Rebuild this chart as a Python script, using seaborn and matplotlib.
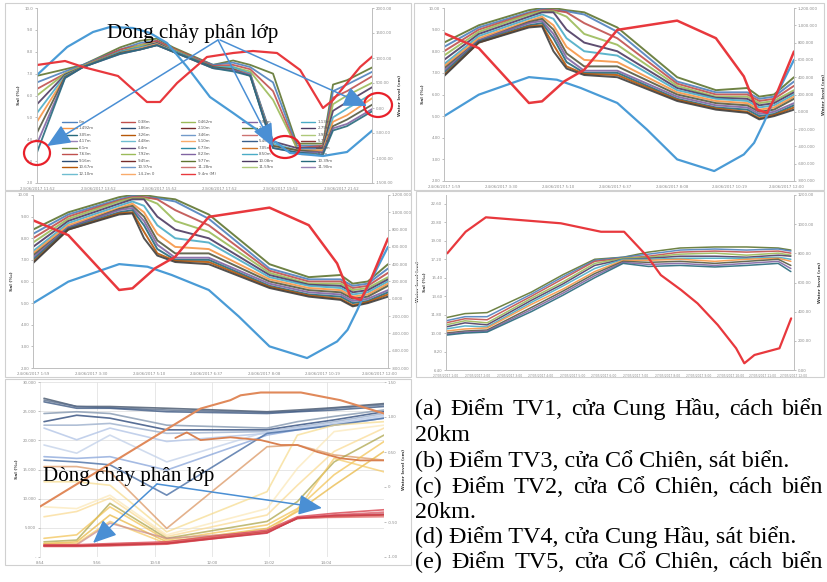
import matplotlib
matplotlib.use('Agg')
import pandas as pd
import matplotlib.pyplot as plt
import seaborn as sns
from matplotlib.patches import Rectangle, Ellipse
from matplotlib.lines import Line2D

# ---------------- data ----------------
# Panel (a) TV1: salinity by depth (left axis), water level (red) and discharge (blue) on right axis
t_a = [0, 0.92, 1.51, 2.73, 3.38, 3.94, 4.47, 5.78, 6.44, 7.0, 7.75, 8.53, 9.39, 9.72, 10.18, 11.03]
sal_a = [
    [6.9, 7.2, 7.4, 8.2, 8.5, 8.6, 8.2, 7.4, 7.6, 7.4, 7.0, 3.8, 3.8, 6.5, 6.7, 7.3],
    [6.6, 7.1, 7.4, 8.1, 8.4, 8.5, 8.1, 7.4, 7.5, 7.3, 6.6, 3.7, 3.7, 6.2, 6.5, 7.1],
    [6.3, 7.0, 7.35, 8.1, 8.3, 8.5, 8.15, 7.35, 7.4, 7.2, 6.2, 3.6, 3.7, 5.9, 6.2, 6.9],
    [6.0, 7.0, 7.35, 8.0, 8.3, 8.4, 8.1, 7.3, 7.3, 7.1, 5.8, 3.6, 3.6, 5.6, 6.0, 6.6],
    [5.6, 6.95, 7.3, 8.0, 8.2, 8.4, 8.05, 7.3, 7.2, 7.0, 3.9, 3.6, 3.6, 5.3, 5.7, 6.4],
    [5.2, 6.9, 7.3, 8.0, 8.2, 8.35, 8.05, 7.3, 7.3, 7.0, 3.8, 3.5, 3.5, 5.0, 5.4, 6.1],
    [4.8, 6.85, 7.3, 7.95, 8.15, 8.35, 8.0, 7.25, 7.2, 6.95, 3.7, 3.5, 3.5, 4.8, 5.1, 5.9],
    [4.3, 6.85, 7.3, 7.95, 8.1, 8.3, 8.0, 7.3, 7.2, 6.9, 3.7, 3.5, 3.4, 4.6, 4.9, 5.6],
    [3.8, 6.8, 7.3, 7.9, 8.1, 8.3, 8.0, 7.25, 7.15, 6.95, 3.6, 3.4, 3.4, 4.5, 4.7, 5.4],
    [3.4, 6.8, 7.3, 7.9, 8.1, 8.3, 8.0, 7.25, 7.1, 6.9, 3.6, 3.4, 3.3, 4.4, 4.6, 5.3],
]
t_a_red = [0, 0.92, 1.51, 2.66, 3.61, 4.04, 4.60, 5.58, 6.44, 7.09, 7.88, 8.64, 9.39, 9.72, 10.18, 10.61, 11.03]
wl_a = [860, 940, 820, 640, 120, 120, 500, 1020, 1100, 1140, 1100, 760, 0, 160, 500, 820, 1040]
t_a_blue = [0, 0.99, 1.84, 2.40, 3.15, 3.71, 4.27, 4.93, 5.68, 6.44, 7.09, 7.88, 8.31, 9.39, 10.18, 11.03]
q_a = [660, 1220, 1520, 1620, 1600, 1500, 1300, 820, 220, -100, -380, -700, -900, -960, -880, -440]
xlab_a = ["23/06/2017 11:52", "23/06/2017 13:52", "23/06/2017 15:52",
          "23/06/2017 17:52", "23/06/2017 19:52", "23/06/2017 21:52"]
depth_labels = ["0m", "0.38m", "0.462m", "0.93m", "1.13m", "1.492m", "1.86m", "2.10m", "2.44m", "2.79m",
                "3.05m", "3.26m", "3.46m", "3.59m", "3.97m", "4.17m", "4.48m", "5.10m", "5.40m", "5.77m",
                "6.1m", "6.4m", "6.73m", "7.05m", "7.40m", "7.63m", "7.92m", "8.23m", "8.50m", "8.8m",
                "9.16m", "9.45m", "9.77m", "10.08m", "10.39m", "10.67m", "10.97m", "11.28m", "11.59m", "11.90m",
                "12.10m", "14.2m 0", "9.4m (M)"]

# Panels (b) TV3 and (c) TV2 (same curves in the source figure)
t_b = [0, 0.61, 1.49, 1.72, 1.92, 2.15, 2.46, 3.04, 4.09, 4.77, 5.32, 5.53, 5.79, 6.14]
sal_b = [
    [8.4, 9.2, 9.9, 10.0, 10.0, 9.9, 9.8, 9.1, 6.8, 6.2, 6.3, 5.9, 6.0, 6.8],
    [8.2, 9.1, 9.8, 9.95, 9.9, 9.85, 9.7, 8.9, 6.6, 6.1, 6.1, 5.8, 5.9, 6.6],
    [8.0, 9.0, 9.75, 9.9, 9.9, 9.8, 9.3, 8.6, 6.5, 6.0, 6.0, 5.7, 5.8, 6.4],
    [7.8, 8.9, 9.7, 9.85, 9.85, 9.6, 8.8, 8.3, 6.4, 5.9, 5.9, 5.6, 5.7, 6.2],
    [7.6, 8.8, 9.6, 9.8, 9.8, 9.0, 8.4, 8.0, 6.3, 5.85, 5.8, 5.5, 5.6, 6.1],
    [7.4, 8.7, 9.5, 9.7, 9.5, 8.6, 8.0, 7.8, 6.2, 5.8, 5.7, 5.4, 5.5, 6.0],
    [7.3, 8.6, 9.4, 9.6, 9.2, 8.2, 7.6, 7.5, 6.1, 5.7, 5.6, 5.3, 5.4, 5.9],
    [7.2, 8.5, 9.35, 9.5, 9.0, 7.9, 7.3, 7.3, 6.0, 5.6, 5.5, 5.2, 5.3, 5.8],
    [7.1, 8.5, 9.3, 9.4, 8.8, 7.7, 7.1, 7.1, 5.9, 5.5, 5.4, 5.1, 5.2, 5.6],
    [7.0, 8.45, 9.2, 9.3, 8.6, 7.5, 7.0, 7.0, 5.8, 5.4, 5.3, 5.0, 5.1, 5.5],
    [6.9, 8.4, 9.15, 9.2, 8.3, 7.3, 6.95, 6.9, 5.75, 5.35, 5.2, 4.9, 5.05, 5.4],
    [6.85, 8.4, 9.1, 9.15, 8.0, 7.2, 6.9, 6.8, 5.7, 5.3, 5.15, 4.85, 5.0, 5.3],
]
t_b_red = [0, 0.61, 1.49, 1.72, 2.11, 2.46, 3.04, 4.09, 4.77, 5.26, 5.49, 5.67, 5.84, 6.14]
wl_b = [908, 736, 102, 121, 352, 486, 947, 1054, 851, 409, 25, -13, 217, 697]
t_b_blue = [0, 0.61, 1.49, 1.98, 2.40, 3.04, 3.56, 4.09, 4.74, 5.26, 5.44, 5.61, 5.79, 6.14]
q_b = [-51, 198, 401, 371, 275, 102, -205, -550, -685, -493, -359, -128, 140, 601]
xlab_b = ["24/06/2017 1:59", "24/06/2017 3:30", "24/06/2017 5:10", "24/06/2017 6:37",
          "24/06/2017 8:08", "24/06/2017 10:19", "24/06/2017 12:00"]

# Panel (d) TV4
t_d = [0, 0.6, 1.3, 2.7, 3.7, 4.7, 5.6, 6.4, 7.4, 8.5, 9.5, 10.5, 10.9]
sal_d = [
    [11.5, 11.9, 12.0, 14.0, 15.7, 17.2, 17.4, 17.9, 18.3, 18.4, 18.4, 18.3, 18.1],
    [11.2, 11.6, 11.6, 13.8, 15.5, 17.1, 17.4, 17.7, 18.1, 18.2, 18.1, 18.2, 18.0],
    [11.0, 11.4, 11.3, 13.6, 15.3, 17.0, 17.3, 17.5, 17.9, 18.0, 17.9, 18.0, 17.8],
    [10.8, 11.2, 11.0, 13.4, 15.0, 16.8, 17.3, 17.4, 17.7, 17.8, 17.6, 17.8, 17.6],
    [10.6, 11.0, 10.8, 13.2, 14.8, 16.6, 17.2, 17.3, 17.5, 17.5, 17.4, 17.6, 17.5],
    [10.4, 10.7, 10.6, 13.0, 14.6, 16.3, 17.2, 17.2, 17.3, 17.3, 17.3, 17.4, 17.2],
    [10.2, 10.4, 10.5, 12.8, 14.3, 16.0, 17.1, 17.1, 17.2, 17.0, 17.2, 17.3, 17.0],
    [10.0, 10.2, 10.3, 12.5, 14.1, 15.8, 17.0, 16.9, 17.0, 16.8, 17.0, 17.2, 16.6],
    [9.9, 10.1, 10.2, 12.3, 13.9, 15.6, 16.9, 16.7, 16.8, 16.6, 16.8, 17.0, 16.3],
    [9.8, 10.0, 10.1, 12.1, 13.7, 15.4, 16.8, 16.5, 16.6, 16.45, 16.6, 16.8, 16.0],
]
t_d_red = [0.04, 0.62, 1.26, 3.63, 4.9, 5.63, 6.37, 6.79, 7.43, 7.95, 8.59, 9.17, 9.43, 9.75, 10.54, 10.91]
wl_d = [800, 948, 1047, 1006, 948, 948, 777, 651, 549, 457, 309, 149, 46, 103, 149, 354]
xlab_d = ["27/05/2017 %d:00" % h for h in range(1, 13)]

# Panel (e) TV5
t_e = [0.07, 0.64, 1.22, 2.21, 3.96, 4.49, 5.13, 6.0]
sal_e_blue = [
    [27.2, 25.8, 25.8, 25.5, 24.9, 25.2, 25.6, 26.3],
    [26.9, 25.8, 25.6, 25.2, 24.8, 25.0, 25.5, 26.1],
    [26.6, 25.5, 25.5, 24.9, 24.6, 24.9, 25.2, 25.8],
    [24.6, 24.9, 24.6, 22.6, 22.1, 23.2, 24.1, 25.2],
    [23.2, 24.3, 23.8, 21.8, 21.8, 22.6, 23.5, 24.9],
    [22.6, 22.6, 22.9, 21.2, 21.5, 22.3, 23.2, 24.6],
    [22.1, 20.1, 22.1, 19.8, 21.2, 22.1, 22.9, 24.3],
    [19.2, 17.8, 20.9, 16.3, 21.5, 22.1, 22.9, 24.1],
    [17.2, 16.9, 17.2, 14.9, 20.9, 21.8, 22.6, 23.8],
    [16.6, 16.3, 15.8, 10.6, 21.2, 21.8, 22.6, 23.8],
]
sal_e_yellow = [
    [15.5, 15.5, 14.6, 4.9, 18.9, 19.2, 17.5, 16.6],
    [12.9, 12.9, 12.3, 4.3, 11.2, 20.9, 22.6, 23.2],
    [8.6, 8.3, 10.6, 3.8, 8.3, 15.2, 21.5, 22.6],
    [6.9, 7.8, 10.1, 3.5, 7.2, 12.3, 18.1, 22.1],
    [2.6, 2.9, 9.2, 3.2, 6.1, 9.5, 16.3, 20.9],
    [3.2, 3.8, 8.6, 2.9, 5.5, 8.3, 14.1, 19.8],
    [2.3, 2.6, 7.2, 2.6, 4.9, 7.8, 12.3, 18.1],
    [2.3, 2.3, 6.1, 2.3, 4.3, 8.1, 16.9, 14.6],
    [2.1, 2.1, 5.8, 3.2, 4.3, 6.6, 7.2, 7.5],
]
sal_e_red = [
    [2.1, 2.1, 2.3, 2.6, 4.6, 6.9, 7.5, 8.1],
    [1.9, 1.9, 2.2, 2.5, 4.5, 6.7, 7.2, 7.7],
    [1.9, 1.9, 2.1, 2.3, 4.3, 6.6, 6.9, 7.2],
    [1.8, 1.8, 1.9, 2.2, 4.2, 6.7, 6.8, 6.9],
    [1.9, 1.9, 2.0, 2.3, 4.1, 6.7, 7.1, 7.3],
]
t_e_wl1 = [0, 2.80, 3.32, 3.50, 3.85, 4.55, 5.24, 6.0]
wl_e1 = [-0.28, 1.12, 1.24, 1.31, 1.35, 1.35, 1.24, 1.05]
t_e_wl2 = [2.36, 2.56, 2.80, 3.32, 3.85, 4.20, 4.49, 4.84, 5.24, 5.59, 6.0]
wl_e2 = [0.70, 0.78, 0.67, 0.71, 0.67, 0.60, 0.60, 0.50, 0.41, 0.38, 0.38]
xlab_e = ["8:54", "9:56", "10:58", "12:00", "13:02", "14:04"]

annot_text = "Dòng chảy phân lớp"
caption_lines = [
    ("(a) Điểm TV1, cửa Cung Hầu, cách biển", True),
    ("20km", False),
    ("(b) Điểm TV3, cửa Cổ Chiên, sát biển.", False),
    ("(c) Điểm TV2, cửa Cổ Chiên, cách biển", True),
    ("20km.", False),
    ("(d) Điểm TV4, cửa Cung Hầu, sát biển.", False),
    ("(e) Điểm TV5, cửa Cổ Chiên, cách biển", True),
]

# ---------------- style ----------------
sns.set_theme(style='white')
plt.rcParams['font.family'] = ['DejaVu Sans']
SERIF = ['Liberation Serif', 'DejaVu Serif']

W, H = 827, 582
fig = plt.figure(figsize=(W / 100, H / 100), dpi=100)
fig.patch.set_facecolor('white')

PAL = ['#4F81BD', '#C0504D', '#9BBB59', '#8064A2', '#4BACC6', '#F79646', '#2C4D75', '#772C2A',
       '#5F7530', '#4D3B62', '#276A7C', '#B65708', '#729ACA', '#CD7371', '#AFC97A', '#9983B5',
       '#6FBDD1', '#F9AB6B', '#3A5F8B', '#8C3836', '#728C3E', '#5C4776', '#2E8BA6', '#D0762A']
BUNDLE = ['#5F7530', '#4F81BD', '#C0504D', '#9BBB59', '#4D3B62', '#4BACC6', '#F79646', '#555A40',
          '#8064A2', '#276A7C', '#B65708', '#3F3F3F']
RED = '#E8383D'
BLUE = '#4A9BD6'
GRAY = '#8C8C8C'
TS = 2.8


def rect(l, t, r, b):
    return [l / W, 1 - b / H, (r - l) / W, (b - t) / H]


def style_ax(ax, ax2, grid=False):
    for a in (ax, ax2):
        a.set_facecolor('none')
        a.tick_params(axis='both', labelsize=TS, length=1.5, width=0.4, colors=GRAY, pad=1.2)
        for s in a.spines.values():
            s.set_color('#BFBFBF')
            s.set_linewidth(0.6)
        a.spines['top'].set_visible(False)
    if grid:
        ax.grid(True, color='#E3E3E3', linewidth=0.6)
        for a in (ax, ax2):
            for s in a.spines.values():
                s.set_visible(False)


def line(ax, x, y, color, lw=1.0, alpha=1.0, z=2):
    sns.lineplot(x=x, y=y, ax=ax, color=color, linewidth=lw, alpha=alpha,
                 sort=False, estimator=None, zorder=z)


def make_panel(r, xlim, ylim_l, ticks_l, fmt_l, ylim_r, ticks_r, fmt_r, xticks, xlabels,
               ylab_l='Sal (‰)', ylab_r='Water level (cm)', grid=False):
    ax = fig.add_axes(rect(*r))
    ax2 = ax.twinx()
    style_ax(ax, ax2, grid)
    ax.set_xlim(*xlim)
    ax.set_ylim(*ylim_l)
    ax.set_yticks(ticks_l)
    ax.set_yticklabels([fmt_l(v) for v in ticks_l])
    ax2.set_ylim(*ylim_r)
    ax2.set_yticks(ticks_r)
    ax2.set_yticklabels([fmt_r(v) for v in ticks_r])
    ax.set_xticks(xticks)
    ax.set_xticklabels(xlabels)
    ax.set_xlabel('')
    ax.set_ylabel(ylab_l, fontsize=3.2, fontweight='bold', color='#404040', labelpad=3)
    ax2.set_ylabel(ylab_r, fontsize=3.2, fontweight='bold', color='#404040', labelpad=3)
    return ax, ax2


# ---------- (a) ----------
ax, ax2 = make_panel((37, 8, 372, 183), (0, 11), (2, 10), list(range(2, 11)), lambda v: f"{v:.1f}",
                     (-1500, 2000), list(range(-1500, 2001, 500)), lambda v: f"{v:.2f}",
                     [0, 2, 4, 6, 8, 10], xlab_a)
for i, s in enumerate(sal_a):
    line(ax, t_a, s, BUNDLE[i % len(BUNDLE)], lw=1.3, alpha=0.9)
line(ax2, t_a_blue, q_a, BLUE, lw=1.6)
line(ax2, t_a_red, wl_a, RED, lw=1.6)
handles = [Line2D([], [], color=(RED if k == len(depth_labels) - 1 else PAL[k % len(PAL)]), lw=1.0)
           for k in range(len(depth_labels))]
ncol = 5
nrow = -(-len(depth_labels) // ncol)
order = []
for c in range(ncol):
    for rr in range(nrow):
        k = rr * ncol + c
        if k < len(depth_labels):
            order.append(k)
leg = ax.legend([handles[k] for k in order], [depth_labels[k] for k in order], ncol=ncol,
                loc='upper left', bbox_to_anchor=(0.075, 0.36), frameon=False, fontsize=2.9,
                handlelength=3.6, handletextpad=0.6, columnspacing=6.6, labelspacing=0.62,
                borderaxespad=0, borderpad=0)
for tx in leg.get_texts():
    tx.set_color('#595959')

# ---------- (b) and (c) ----------
for r in [(444, 8, 794, 181), (33, 195, 388, 368)]:
    ax, ax2 = make_panel(r, (0, 6.14), (2, 10), list(range(2, 11)), lambda v: f"{v:.2f}",
                         (-800, 1200), list(range(-800, 1201, 200)), lambda v: f"{v:,.3f}",
                         list(range(7)), xlab_b)
    for i, s in enumerate(sal_b):
        line(ax, t_b, s, BUNDLE[i % len(BUNDLE)], lw=1.4, alpha=0.9)
    line(ax2, t_b_blue, q_b, BLUE, lw=1.6)
    line(ax2, t_b_red, wl_b, RED, lw=1.8)

# ---------- (d) ----------
ticks_d = [6.4 + 1.8 * k for k in range(10)]
ax, ax2 = make_panel((446, 195, 794, 370), (0, 11), (6.4, 23.47), ticks_d, lambda v: f"{v:.2f}",
                     (0, 1200), list(range(0, 1201, 200)), lambda v: f"{v:.2f}",
                     list(range(12)), xlab_d)
ax.tick_params(axis='x', labelsize=2.2)
for i, s in enumerate(sal_d):
    line(ax, t_d, s, BUNDLE[i % len(BUNDLE)], lw=1.1, alpha=0.9)
line(ax2, t_d_red, wl_d, RED, lw=1.6)

# ---------- (e) ----------
ax, ax2 = make_panel((40, 382, 384, 557), (0, 6.0), (0, 30), list(range(0, 31, 5)),
                     lambda v: '-' if v == 0 else f"{v}.000",
                     (-1.0, 1.5), [-1.0, -0.5, 0, 0.5, 1.0, 1.5],
                     lambda v: '0' if v == 0 else f"{v:.2f}",
                     list(range(6)), xlab_e, grid=True)
blue_cols = ['#44546A', '#5A6E8C', '#3F5A84', '#8497B0', '#2F4B7C', '#9DB0CC', '#B4C6E7',
             '#C5D3EA', '#8FAADC', '#4A6FA5']
yel_cols = ['#D9915A', '#F6DA8A', '#FBE7B5', '#FAD98F', '#A8A040', '#F2C14E', '#E8B43A',
            '#F5C860', '#C98A8A']
red_cols = ['#D9434F', '#E06470', '#C0392B', '#E57373', '#CC3344']
for i, s in enumerate(sal_e_blue):
    line(ax, t_e, s, blue_cols[i], lw=1.2, alpha=0.8)
for i, s in enumerate(sal_e_yellow):
    line(ax, t_e, s, yel_cols[i], lw=1.2, alpha=0.7)
for i, s in enumerate(sal_e_red):
    line(ax, t_e, s, red_cols[i], lw=1.2, alpha=0.8)
line(ax2, t_e_wl1, wl_e1, '#E0895A', lw=1.5)
line(ax2, t_e_wl2, wl_e2, '#D98050', lw=1.3)

# ---------------- overlay (frames, annotations, caption) ----------------
ov = fig.add_axes([0, 0, 1, 1], zorder=20)
ov.set_xlim(0, W)
ov.set_ylim(H, 0)
ov.axis('off')
ov.patch.set_alpha(0)

for (l, t, r, b) in [(5, 3, 411, 190), (414, 3, 824, 190), (5, 191, 411, 377), (416, 191, 824, 377),
                     (5, 379, 411, 565)]:
    ov.add_patch(Rectangle((l, t), r - l, b - t, fill=False, edgecolor='#D0D0D0', lw=0.8))

renderer = fig.canvas.get_renderer()


def text_width(s, fs):
    t = ov.text(0, 0, s, fontsize=fs, family=SERIF)
    w = t.get_window_extent(renderer).width
    t.remove()
    return w


fs_ann = 12 * 171 / text_width(annot_text, 12)
ov.text(107, 38, annot_text, fontsize=fs_ann, family=SERIF, color='black', va='baseline', ha='left')
ov.text(43, 481, annot_text, fontsize=fs_ann, family=SERIF, color='black', va='baseline', ha='left')

ARROW_C = '#4A8FD4'
for (sx, sy, ex, ey) in [(218, 40, 47, 146), (218, 40, 273, 147), (220, 40, 367, 106),
                         (157, 484, 93, 543), (157, 484, 322, 508)]:
    ov.annotate('', xy=(ex, ey), xytext=(sx, sy),
                arrowprops=dict(arrowstyle='-|>,head_length=0.8,head_width=0.35', color=ARROW_C,
                                lw=1.1, mutation_scale=18, shrinkA=0, shrinkB=0))

for (cx, cy, w, h) in [(37, 153, 26, 24), (285, 147, 30, 22), (378, 105, 28, 24)]:
    ov.add_patch(Ellipse((cx, cy), w, h, fill=False, edgecolor='#E8202A', lw=1.6))

# caption (justified lines where needed)
fs_cap = 12 * 373 / text_width(caption_lines[2][0], 12)
x0, x1 = 415, 823
baselines = [415, 441, 467, 493, 518, 543, 568]
for (txt, just), yb in zip(caption_lines, baselines):
    if not just:
        ov.text(x0, yb, txt, fontsize=fs_cap, family=SERIF, va='baseline', ha='left', color='black')
        continue
    words = txt.split(' ')
    widths = [text_width(w_, fs_cap) for w_ in words]
    gap = (x1 - x0 - sum(widths)) / (len(words) - 1)
    x = x0
    for w_, wd in zip(words, widths):
        ov.text(x, yb, w_, fontsize=fs_cap, family=SERIF, va='baseline', ha='left', color='black')
        x += wd + gap

fig.savefig('out.png', dpi=100, facecolor='white')
